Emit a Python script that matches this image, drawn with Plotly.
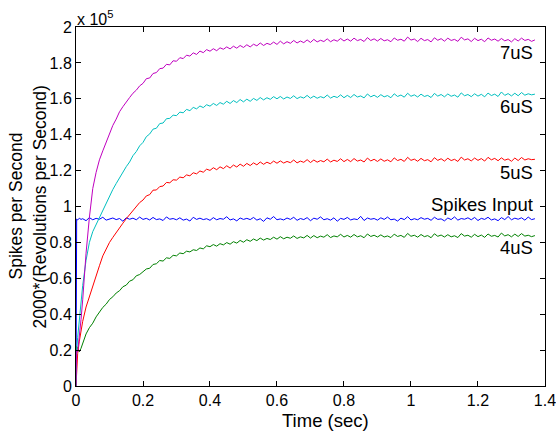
import plotly.graph_objects as go

# time samples (sec)
time_s = [0, 0.002, 0.005, 0.01, 0.015, 0.02,
          0.03, 0.04, 0.05, 0.06, 0.07, 0.08, 0.09, 0.10,
          0.11, 0.12, 0.13, 0.14, 0.15, 0.16, 0.17, 0.18, 0.19, 0.20,
          0.21, 0.22, 0.23, 0.24, 0.25, 0.26, 0.27, 0.28, 0.29, 0.30,
          0.31, 0.32, 0.33, 0.34, 0.35, 0.36, 0.37, 0.38, 0.39, 0.40,
          0.41, 0.42, 0.43, 0.44, 0.45, 0.46, 0.47, 0.48, 0.49, 0.50,
          0.51, 0.52, 0.53, 0.54, 0.55, 0.56, 0.57, 0.58, 0.59, 0.60,
          0.61, 0.62, 0.63, 0.64, 0.65, 0.66, 0.67, 0.68, 0.69, 0.70,
          0.71, 0.72, 0.73, 0.74, 0.75, 0.76, 0.77, 0.78, 0.79, 0.80,
          0.81, 0.82, 0.83, 0.84, 0.85, 0.86, 0.87, 0.88, 0.89, 0.90,
          0.91, 0.92, 0.93, 0.94, 0.95, 0.96, 0.97, 0.98, 0.99, 1.00,
          1.01, 1.02, 1.03, 1.04, 1.05, 1.06, 1.07, 1.08, 1.09, 1.10,
          1.11, 1.12, 1.13, 1.14, 1.15, 1.16, 1.17, 1.18, 1.19, 1.20,
          1.21, 1.22, 1.23, 1.24, 1.25, 1.26, 1.27, 1.28, 1.29, 1.30,
          1.31, 1.32, 1.33, 1.34, 1.35, 1.36, 1.37]

# values in units of 1e5
spikes_input = [0, 0.93, 0.925, 0.935, 0.928, 0.932,
                0.921, 0.938, 0.926, 0.934, 0.929, 0.940, 0.924, 0.931,
                0.936, 0.927, 0.933, 0.918, 0.937, 0.929, 0.935, 0.926, 0.941, 0.928,
                0.934, 0.925, 0.939, 0.927, 0.931, 0.922, 0.942, 0.929, 0.933, 0.926,
                0.937, 0.924, 0.930, 0.919, 0.940, 0.928, 0.935, 0.927, 0.932, 0.923,
                0.938, 0.926, 0.933, 0.929, 0.943, 0.925, 0.931, 0.920, 0.936, 0.928,
                0.934, 0.927, 0.939, 0.924, 0.932, 0.917, 0.937, 0.929, 0.944, 0.926,
                0.931, 0.925, 0.936, 0.928, 0.940, 0.923, 0.933, 0.927, 0.938, 0.921,
                0.935, 0.929, 0.942, 0.926, 0.932, 0.924, 0.937, 0.918, 0.934, 0.928,
                0.939, 0.925, 0.931, 0.927, 0.945, 0.922, 0.936, 0.929, 0.933, 0.924,
                0.937, 0.928, 0.941, 0.926, 0.930, 0.919, 0.935, 0.927, 0.943, 0.925,
                0.932, 0.926, 0.938, 0.929, 0.934, 0.923, 0.940, 0.928, 0.931, 0.920,
                0.936, 0.927, 0.942, 0.924, 0.933, 0.929, 0.937, 0.926, 0.939, 0.922,
                0.934, 0.928, 0.940, 0.925, 0.931, 0.921, 0.938, 0.927, 0.944, 0.926,
                0.935, 0.929, 0.937, 0.924, 0.941, 0.927, 0.932]

us4 = [0, 0.22, 0.21, 0.19, 0.21, 0.24,
       0.29, 0.325, 0.35, 0.385, 0.41, 0.438, 0.456, 0.482,
       0.497, 0.518, 0.531, 0.553, 0.562, 0.584, 0.592, 0.614, 0.621, 0.639,
       0.652, 0.656, 0.677, 0.681, 0.699, 0.696, 0.714, 0.711, 0.728, 0.725,
       0.741, 0.737, 0.751, 0.747, 0.759, 0.755, 0.769, 0.764, 0.781, 0.776,
       0.788, 0.779, 0.793, 0.786, 0.799, 0.790, 0.804, 0.796, 0.811, 0.801,
       0.815, 0.806, 0.819, 0.810, 0.824, 0.813, 0.822, 0.816, 0.829, 0.818,
       0.832, 0.820, 0.829, 0.823, 0.836, 0.822, 0.831, 0.825, 0.839, 0.824,
       0.838, 0.826, 0.835, 0.829, 0.843, 0.827, 0.836, 0.831, 0.845, 0.830,
       0.839, 0.829, 0.844, 0.831, 0.837, 0.826, 0.847, 0.833, 0.840, 0.830,
       0.842, 0.830, 0.836, 0.827, 0.846, 0.833, 0.839, 0.828, 0.850, 0.834,
       0.840, 0.829, 0.844, 0.832, 0.838, 0.826, 0.848, 0.834, 0.841, 0.830,
       0.843, 0.831, 0.837, 0.827, 0.849, 0.835, 0.840, 0.829, 0.845, 0.832,
       0.841, 0.828, 0.847, 0.834, 0.839, 0.830, 0.852, 0.836, 0.843, 0.831,
       0.846, 0.833, 0.849, 0.835, 0.840, 0.832, 0.838]

us5 = [0, 0.12, 0.18, 0.25, 0.31, 0.36,
       0.44, 0.50, 0.55, 0.61, 0.67, 0.725, 0.765, 0.80,
       0.828, 0.856, 0.879, 0.907, 0.932, 0.954, 0.981, 0.998, 1.022, 1.036,
       1.059, 1.066, 1.091, 1.092, 1.111, 1.114, 1.134, 1.132, 1.149, 1.147,
       1.164, 1.160, 1.176, 1.171, 1.188, 1.182, 1.198, 1.191, 1.208, 1.201,
       1.216, 1.205, 1.221, 1.211, 1.227, 1.214, 1.231, 1.220, 1.236, 1.224,
       1.240, 1.228, 1.243, 1.232, 1.248, 1.235, 1.247, 1.238, 1.253, 1.241,
       1.254, 1.242, 1.251, 1.244, 1.259, 1.243, 1.253, 1.246, 1.261, 1.245,
       1.259, 1.247, 1.256, 1.249, 1.264, 1.248, 1.258, 1.251, 1.266, 1.250,
       1.262, 1.250, 1.267, 1.253, 1.259, 1.248, 1.270, 1.254, 1.263, 1.251,
       1.265, 1.252, 1.260, 1.249, 1.271, 1.256, 1.263, 1.251, 1.274, 1.257,
       1.264, 1.252, 1.268, 1.255, 1.261, 1.249, 1.272, 1.257, 1.266, 1.253,
       1.269, 1.256, 1.263, 1.251, 1.275, 1.259, 1.266, 1.254, 1.270, 1.257,
       1.267, 1.253, 1.274, 1.260, 1.268, 1.255, 1.271, 1.258, 1.265, 1.252,
       1.270, 1.256, 1.273, 1.259, 1.266, 1.261, 1.263]

us6 = [0, 0.2, 0.27, 0.37, 0.47, 0.56,
       0.70, 0.80, 0.86, 0.90, 0.935, 0.975, 1.02, 1.06,
       1.095, 1.128, 1.162, 1.188, 1.222, 1.248, 1.283, 1.306, 1.338, 1.357,
       1.389, 1.404, 1.431, 1.436, 1.462, 1.465, 1.489, 1.491, 1.509, 1.506,
       1.526, 1.522, 1.541, 1.534, 1.552, 1.544, 1.560, 1.551, 1.567, 1.559,
       1.574, 1.563, 1.579, 1.570, 1.586, 1.574, 1.590, 1.579, 1.596, 1.583,
       1.598, 1.586, 1.602, 1.591, 1.607, 1.594, 1.606, 1.597, 1.612, 1.600,
       1.613, 1.599, 1.610, 1.602, 1.617, 1.601, 1.611, 1.604, 1.619, 1.603,
       1.615, 1.603, 1.612, 1.605, 1.621, 1.604, 1.614, 1.607, 1.622, 1.606,
       1.619, 1.607, 1.624, 1.610, 1.616, 1.605, 1.627, 1.611, 1.620, 1.608,
       1.623, 1.611, 1.618, 1.606, 1.628, 1.613, 1.621, 1.609, 1.631, 1.614,
       1.622, 1.610, 1.626, 1.613, 1.619, 1.607, 1.630, 1.615, 1.624, 1.611,
       1.627, 1.614, 1.621, 1.609, 1.633, 1.617, 1.624, 1.612, 1.628, 1.615,
       1.625, 1.611, 1.632, 1.618, 1.626, 1.613, 1.638, 1.619, 1.629, 1.616,
       1.631, 1.617, 1.635, 1.620, 1.628, 1.622, 1.626]

us7 = [0, 0.2, 0.19, 0.27, 0.37, 0.48,
       0.74, 0.94, 1.10, 1.19, 1.26, 1.31, 1.36, 1.41,
       1.452, 1.487, 1.528, 1.556, 1.584, 1.607, 1.631, 1.648, 1.672, 1.686,
       1.712, 1.716, 1.741, 1.746, 1.768, 1.771, 1.792, 1.789, 1.812, 1.809,
       1.829, 1.824, 1.843, 1.838, 1.856, 1.847, 1.866, 1.857, 1.874, 1.865,
       1.879, 1.868, 1.884, 1.876, 1.889, 1.878, 1.893, 1.882, 1.897, 1.886,
       1.901, 1.889, 1.904, 1.895, 1.911, 1.897, 1.909, 1.902, 1.916, 1.903,
       1.921, 1.906, 1.918, 1.909, 1.925, 1.911, 1.922, 1.913, 1.928, 1.914,
       1.931, 1.917, 1.926, 1.919, 1.934, 1.918, 1.929, 1.921, 1.936, 1.922,
       1.933, 1.921, 1.938, 1.924, 1.931, 1.919, 1.941, 1.925, 1.934, 1.922,
       1.936, 1.923, 1.929, 1.918, 1.939, 1.926, 1.932, 1.921, 1.944, 1.927,
       1.933, 1.919, 1.937, 1.924, 1.930, 1.917, 1.940, 1.926, 1.935, 1.921,
       1.938, 1.925, 1.931, 1.920, 1.943, 1.928, 1.934, 1.919, 1.937, 1.924,
       1.932, 1.918, 1.939, 1.926, 1.933, 1.921, 1.936, 1.923, 1.930, 1.917,
       1.935, 1.922, 1.938, 1.925, 1.931, 1.920, 1.928]

x_ticks = [0, 0.2, 0.4, 0.6, 0.8, 1, 1.2, 1.4]
x_tick_text = ["0", "0.2", "0.4", "0.6", "0.8", "1", "1.2", "1.4"]
y_ticks = [0, 0.2, 0.4, 0.6, 0.8, 1, 1.2, 1.4, 1.6, 1.8, 2]
y_tick_text = ["0", "0.2", "0.4", "0.6", "0.8", "1", "1.2", "1.4", "1.6", "1.8", "2"]

series = [("Spikes Input", spikes_input, "#0000FF"),
          ("4uS", us4, "#008000"),
          ("5uS", us5, "#FF0000"),
          ("6uS", us6, "#00BFBF"),
          ("7uS", us7, "#BF00BF")]

# label text and y position (data units) for the right-hand labels
labels = [("7uS", 1.86), ("6uS", 1.556), ("5uS", 1.19), ("Spikes Input", 1.01), ("4uS", 0.77)]

FONT = "Liberation Sans, Arial, sans-serif"

fig = go.Figure()
for name, vals, col in series:
    fig.add_trace(go.Scatter(x=time_s, y=vals, mode="lines", name=name,
                             line=dict(color=col, width=1)))

for txt, yv in labels:
    fig.add_annotation(x=1.37, y=yv, text=txt, showarrow=False, xanchor="right", yanchor="middle",
                       font=dict(size=18.5, color="black", family=FONT))

# y axis title, two lines
fig.add_annotation(xref="paper", yref="paper", x=-0.130, y=0.5, text="Spikes per Second", textangle=-90,
                   showarrow=False, xanchor="center", yanchor="middle", font=dict(size=17.5, color="black", family=FONT))
fig.add_annotation(xref="paper", yref="paper", x=-0.077, y=0.5, text="2000*(Revolutions per Second)", textangle=-90,
                   showarrow=False, xanchor="center", yanchor="middle", font=dict(size=17.5, color="black", family=FONT))
# x axis title
fig.add_annotation(xref="paper", yref="paper", x=0.533, y=-0.095, text="Time (sec)",
                   showarrow=False, xanchor="center", yanchor="middle", font=dict(size=18.5, color="black", family=FONT))
# exponent
fig.add_annotation(xref="paper", yref="paper", x=-0.003, y=1.025, text="x 10<sup>5</sup>",
                   showarrow=False, xanchor="left", yanchor="middle", font=dict(size=16, color="black", family=FONT))

axis_style = dict(showline=True, linecolor="black", linewidth=1, mirror="allticks", ticks="inside",
                  ticklen=5, tickcolor="black", showgrid=False, zeroline=False,
                  ticklabeloverflow="allow",
                  tickfont=dict(size=16, color="black", family=FONT))

fig.update_xaxes(range=[0, 1.4001], tickvals=x_ticks, ticktext=x_tick_text, **axis_style)
fig.update_yaxes(range=[0, 2], tickvals=y_ticks, ticktext=y_tick_text, **axis_style)

fig.update_layout(width=556, height=431, showlegend=False,
                  margin=dict(l=76, r=11, t=27, b=45, autoexpand=False),
                  plot_bgcolor="white", paper_bgcolor="white",
                  font=dict(family=FONT, color="black"))

fig.write_html("out.html", config={"displayModeBar": False},
               post_script="document.body.style.margin='0';")
